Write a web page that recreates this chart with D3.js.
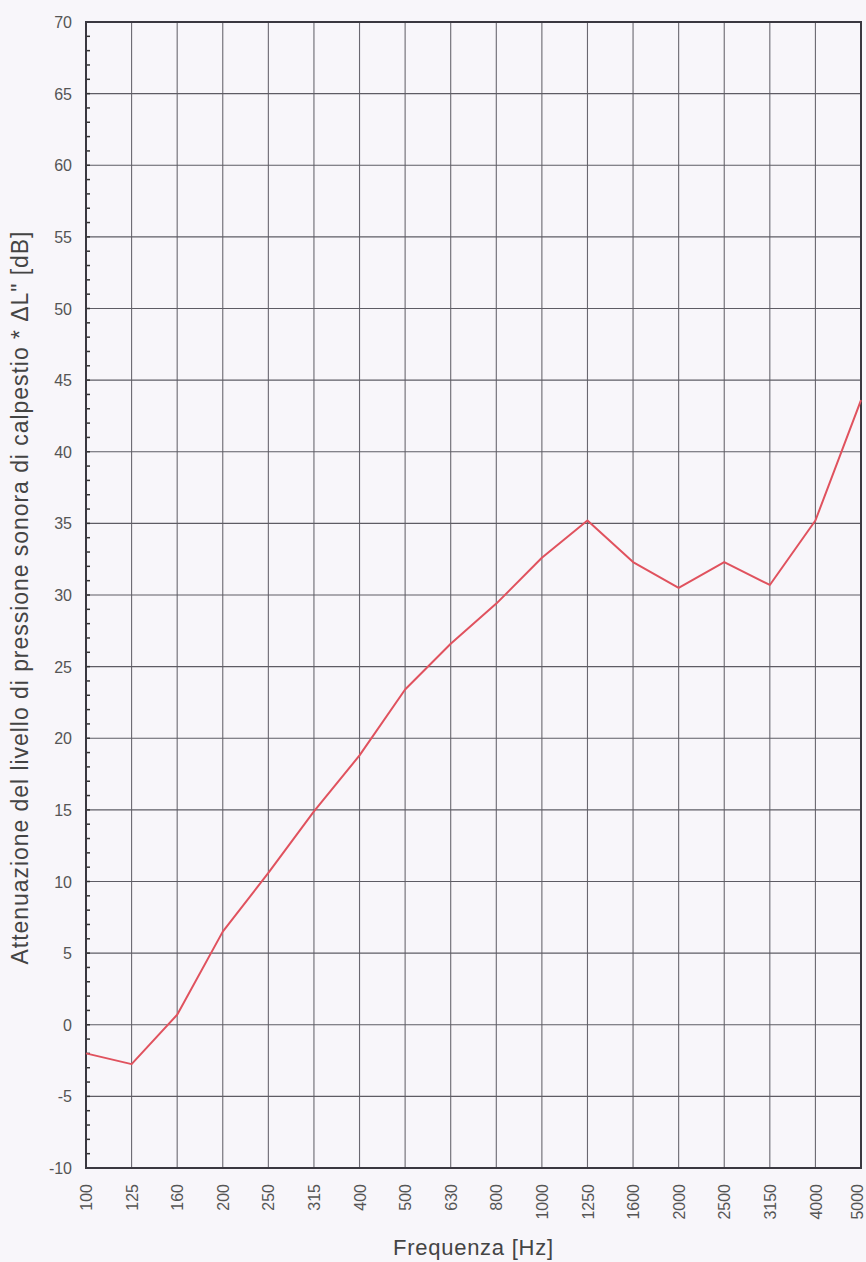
<!DOCTYPE html>
<html>
<head>
<meta charset="utf-8">
<script src="https://cdn.jsdelivr.net/npm/d3@7"></script>
<style>
  html, body { margin: 0; padding: 0; background: #f8f6fa; }
  svg { display: block; }
  .tick text { font-family: "Liberation Sans", Arial, sans-serif; fill: #555; }
</style>
</head>
<body>
<svg id="chart" width="866" height="1262"></svg>
<script>
var frequencies = ["100", "125", "160", "200", "250", "315", "400", "500", "630", "800",
    "1000", "1250", "1600", "2000", "2500", "3150", "4000", "5000"];
var deltaL = [-2.0, -2.75, 0.7, 6.5, 10.6, 14.9, 18.8, 23.4, 26.6, 29.4,
    32.6, 35.2, 32.3, 30.5, 32.3, 30.7, 35.2, 43.6];
var yTicks = [-10, -5, 0, 5, 10, 15, 20, 25, 30, 35, 40, 45, 50, 55, 60, 65, 70];
var yMinor = d3.range(-10, 71, 1);

var margin = { top: 22, right: 5, bottom: 94, left: 86 };
var svg = d3.select("#chart");
var width = +svg.attr("width") - margin.left - margin.right;
var height = +svg.attr("height") - margin.top - margin.bottom;

var x = d3.scalePoint().domain(frequencies).range([0, width]);
var y = d3.scaleLinear().domain([-10, 70]).range([height, 0]);

var g = svg.append("g").attr("transform", "translate(" + margin.left + "," + margin.top + ")");

// grid
g.append("g")
    .selectAll("line")
    .data(frequencies)
    .enter().append("line")
    .attr("x1", function (d) { return x(d); })
    .attr("x2", function (d) { return x(d); })
    .attr("y1", 0)
    .attr("y2", height)
    .attr("stroke", "#6a6870")
    .attr("stroke-width", 1.1)
;
g.append("g")
    .selectAll("line")
    .data(yTicks)
    .enter().append("line")
    .attr("x1", 0)
    .attr("x2", width)
    .attr("y1", function (d) { return y(d); })
    .attr("y2", function (d) { return y(d); })
    .attr("stroke", "#5e5c64")
    .attr("stroke-width", 1.1)
;

// minor ticks on the left axis, pointing inward
g.append("g")
    .selectAll("line")
    .data(yMinor)
    .enter().append("line")
    .attr("x1", 0)
    .attr("x2", 4)
    .attr("y1", function (d) { return y(d); })
    .attr("y2", function (d) { return y(d); })
    .attr("stroke", "#333")
    .attr("stroke-width", 1.5)
;

// axes
var yAxis = g.append("g")
    .call(d3.axisLeft(y).tickValues(yTicks).tickSize(0).tickPadding(14)
        .tickFormat(function (d) { return String(d); }))
;
yAxis.select(".domain").remove();
yAxis.selectAll("text").attr("font-size", "16px").attr("dy", "0.35em");

var xAxis = g.append("g")
    .attr("transform", "translate(0," + height + ")")
    .call(d3.axisBottom(x).tickSize(0))
;
xAxis.select(".domain").remove();
xAxis.selectAll("text")
    .attr("font-size", "16px")
    .attr("transform", "rotate(-90)")
    .attr("text-anchor", "end")
    .attr("x", -16)
    .attr("y", function (d, i) { return i === frequencies.length - 1 ? -4 : 0; })
    .attr("dy", "0.35em")
;

// frame
g.append("rect")
    .attr("x", 0)
    .attr("y", 0)
    .attr("width", width)
    .attr("height", height)
    .attr("fill", "none")
    .attr("stroke", "#3a3840")
    .attr("stroke-width", 2)
;

// curve
var line = d3.line()
    .x(function (d, i) { return x(frequencies[i]); })
    .y(function (d) { return y(d); })
;
g.append("path")
    .datum(deltaL)
    .attr("d", line)
    .attr("fill", "none")
    .attr("stroke", "#e0525e")
    .attr("stroke-width", 2)
    .attr("stroke-linejoin", "round")
;

// axis titles
svg.append("text")
    .attr("transform", "translate(28,598) rotate(-90)")
    .attr("text-anchor", "middle")
    .attr("font-family", "Liberation Sans, Arial, sans-serif")
    .attr("font-size", "23px")
    .attr("fill", "#444")
    .attr("textLength", 733)
    .attr("lengthAdjust", "spacing")
    .text("Attenuazione del livello di pressione sonora di calpestio * \u0394L\" [dB]")
;
svg.append("text")
    .attr("x", 473)
    .attr("y", 1255)
    .attr("text-anchor", "middle")
    .attr("font-family", "Liberation Sans, Arial, sans-serif")
    .attr("font-size", "22px")
    .attr("fill", "#444")
    .attr("textLength", 160)
    .attr("lengthAdjust", "spacing")
    .text("Frequenza [Hz]")
;
</script>
</body>
</html>
